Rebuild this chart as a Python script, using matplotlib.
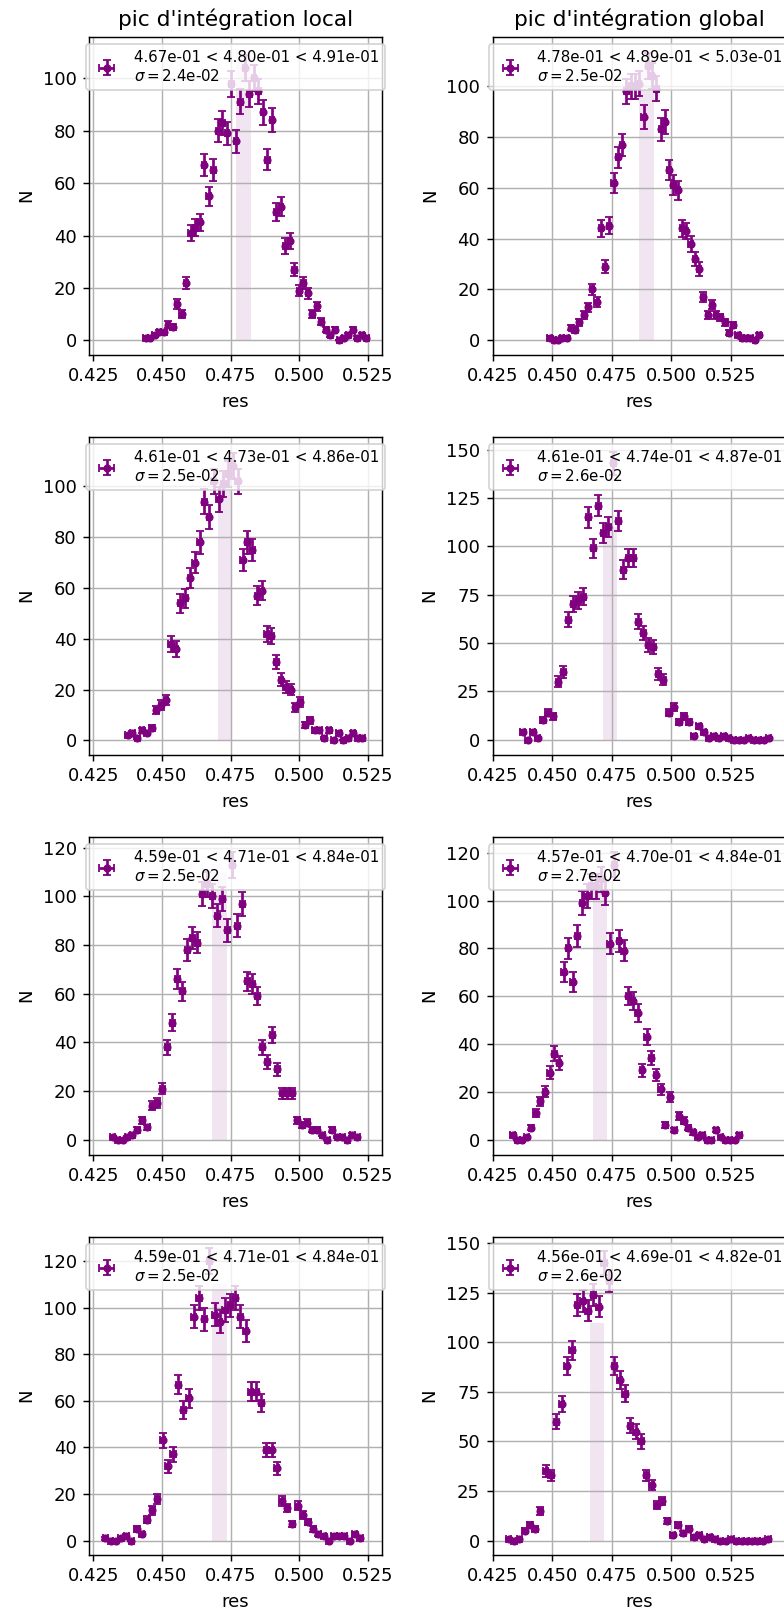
import numpy as np
import matplotlib
matplotlib.use("Agg")
import matplotlib.pyplot as plt

# ------------------------------------------------------------
# histogram data (50 bins per panel), panel order:
# row1 local, row1 global, row2 local, row2 global, ...
# ------------------------------------------------------------
titles = ["pic d'intégration local", "pic d'intégration global"]

# first / last bin centre of each histogram
bin_lo = [0.4441, 0.4488, 0.4375, 0.4376, 0.4320, 0.4333, 0.4294, 0.4316]
bin_hi = [0.5245, 0.5369, 0.5231, 0.5411, 0.5212, 0.5286, 0.5222, 0.5407]

counts_l1 = [1, 1, 2, 3, 3, 6, 5, 14, 10, 22, 41, 43, 45, 67, 55, 65, 80, 83, 79, 98,
             76, 91, 104, 94, 100, 95, 87, 69, 84, 49, 51, 36, 38, 27, 19, 22, 18, 10, 13, 7,
             4, 2, 4, 0, 1, 2, 4, 1, 2, 1]
counts_r1 = [1, 0, 0, 1, 1, 5, 4, 7, 10, 13, 20, 15, 44, 29, 45, 62, 72, 77, 98, 100,
             100, 101, 88, 108, 104, 99, 83, 86, 67, 61, 59, 44, 43, 38, 32, 28, 17, 10, 14, 10,
             9, 7, 3, 6, 2, 1, 1, 1, 0, 2]
counts_l2 = [2, 3, 1, 4, 3, 5, 12, 14, 16, 38, 36, 54, 56, 64, 70, 78, 94, 88, 102, 95,
             101, 105, 108, 102, 71, 78, 75, 57, 59, 42, 41, 31, 24, 21, 20, 13, 15, 6, 8, 4,
             4, 1, 4, 0, 3, 0, 1, 3, 1, 1]
counts_r2 = [4, 0, 4, 1, 10, 14, 12, 30, 35, 62, 70, 72, 74, 115, 99, 121, 107, 110, 143, 113,
             88, 94, 94, 61, 55, 49, 48, 34, 31, 14, 17, 9, 12, 9, 2, 7, 4, 1, 2, 1,
             2, 1, 0, 0, 0, 1, 0, 0, 0, 1]
counts_l3 = [1, 0, 0, 1, 2, 4, 8, 5, 14, 15, 21, 38, 48, 66, 61, 78, 83, 81, 101, 105,
             100, 92, 99, 86, 113, 88, 97, 65, 64, 59, 38, 32, 43, 29, 19, 19, 19, 8, 6, 7,
             4, 4, 2, 0, 4, 1, 1, 0, 2, 1]
counts_r3 = [2, 0, 0, 1, 5, 11, 16, 20, 28, 36, 32, 70, 80, 66, 85, 99, 102, 106, 106, 109,
             103, 82, 115, 83, 79, 60, 58, 53, 29, 43, 34, 27, 21, 6, 18, 4, 10, 8, 5, 3,
             1, 2, 0, 0, 4, 1, 0, 0, 0, 2]
counts_l4 = [1, 0, 0, 1, 2, 0, 5, 3, 9, 13, 18, 43, 32, 37, 67, 56, 61, 96, 104, 95,
             120, 97, 94, 99, 101, 104, 96, 90, 64, 64, 59, 39, 39, 31, 17, 14, 7, 15, 11, 8,
             5, 3, 2, 0, 2, 2, 2, 0, 3, 1]
counts_r4 = [1, 0, 1, 5, 8, 6, 15, 35, 33, 60, 69, 88, 96, 119, 121, 116, 124, 118, 140, 131,
             88, 81, 74, 58, 55, 50, 33, 28, 18, 20, 10, 3, 8, 4, 6, 2, 3, 1, 2, 1,
             0, 0, 1, 0, 0, 0, 0, 0, 0, 1]
counts = [counts_l1, counts_r1, counts_l2, counts_r2,
          counts_l3, counts_r3, counts_l4, counts_r4]

# quantiles 16 / 50 / 84 % and sigma printed in the legends
q16 = [0.467, 0.478, 0.461, 0.461, 0.459, 0.457, 0.459, 0.456]
q50 = [0.480, 0.489, 0.473, 0.474, 0.471, 0.470, 0.471, 0.469]
q84 = [0.491, 0.503, 0.486, 0.487, 0.484, 0.484, 0.484, 0.482]
sigma = [0.024, 0.025, 0.025, 0.026, 0.025, 0.027, 0.025, 0.026]

# shaded band around the median
band_center = [0.4797, 0.4896, 0.4731, 0.4743, 0.4710, 0.4701, 0.4710, 0.4688]
band_half = [0.0027, 0.0030, 0.0026, 0.0028, 0.0027, 0.0028, 0.0027, 0.0028]
band_height = [110, 110, 110, 110, 110, 110, 110, 110]

y_limits = [(-5.5, 115.9), (-5.7, 119.5), (-5.6, 119.6), (-7.8, 156.7),
            (-6.2, 124.5), (-6.3, 126.7), (-6.0, 130.4), (-7.1, 153.3)]
x_limits = [(0.42354, 0.5301), (0.4249, 0.5479)]

# ------------------------------------------------------------
# figure
# ------------------------------------------------------------
W, H, DPI = 784, 1612, 130
fig = plt.figure(figsize=(W / DPI, H / DPI), dpi=DPI)

col_x0 = [89.3, 492.7]
row_top = [36.7, 436.7, 836.7, 1236.7]
ax_w, ax_h = 292.4, 318.0

for k in range(8):
    row, col = k // 2, k % 2
    ax = fig.add_axes([col_x0[col] / W, 1 - (row_top[row] + ax_h) / H, ax_w / W, ax_h / H])

    n = np.array(counts[k], dtype=float)
    x = np.linspace(bin_lo[k], bin_hi[k], len(n))
    half_bin = (x[1] - x[0]) / 2

    ax.bar(band_center[k], band_height[k], width=2 * band_half[k], color="purple", alpha=0.1)

    label = (f"{q16[k]:.2e} < {q50[k]:.2e} < {q84[k]:.2e}\n"
             f"$\\sigma=${sigma[k]:.1e}")
    ax.errorbar(x, n, yerr=np.sqrt(n) / 2, xerr=half_bin, fmt="o", color="purple",
                markersize=3.5, capsize=2, label=label)

    ax.set_xlim(*x_limits[col])
    ax.set_ylim(*y_limits[k])
    ax.set_xticks([0.425, 0.450, 0.475, 0.500, 0.525])
    ax.set_xlabel("res")
    ax.set_ylabel("N")
    ax.grid(True)
    ax.legend(loc="upper center", fontsize="small")
    if row == 0:
        ax.set_title(titles[col])

fig.savefig("out.png", dpi=DPI)
